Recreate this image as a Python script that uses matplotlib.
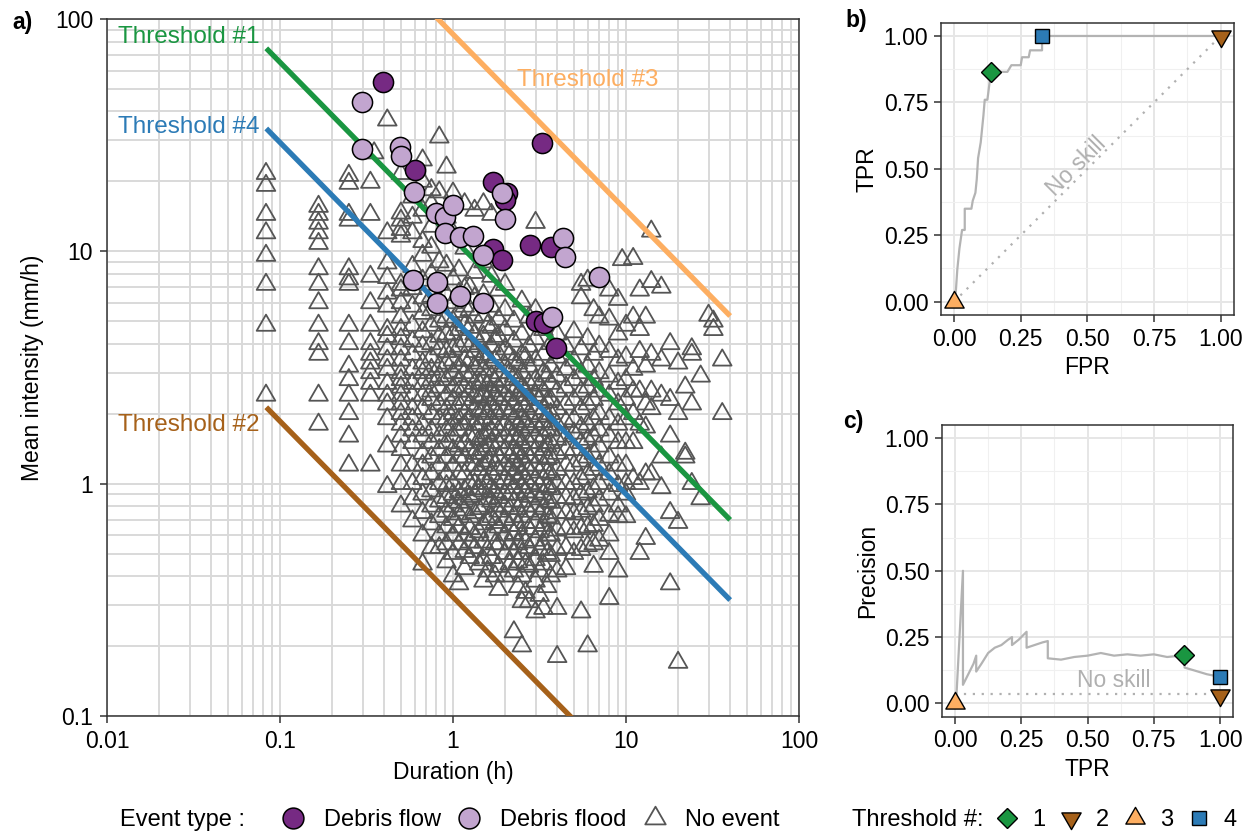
import numpy as np
import matplotlib
matplotlib.use("Agg")
import matplotlib.pyplot as plt
from matplotlib.path import Path
from matplotlib.lines import Line2D
from matplotlib.ticker import FixedLocator, LogLocator, NullFormatter, MultipleLocator

plt.rcParams['font.family'] = ['Liberation Sans', 'DejaVu Sans']

# ---------------- data: panel a ----------------
# debris-flow events (duration h, mean intensity mm/h)
flow_dur = [0.393, 3.27, 0.602, 1.70, 2.05, 2.0, 2.78, 3.70, 1.70, 1.92, 3.0, 3.35, 3.96]
flow_int = [53.5, 29.3, 22.4, 19.9, 17.8, 16.6, 10.6, 10.4, 10.2, 9.2, 5.0, 4.9, 3.85]

# debris-flood events
flood_dur = [0.298, 0.298, 0.494, 0.50, 0.596, 0.798, 0.899, 1.0, 0.899, 1.097, 1.306, 1.49,
             1.92, 2.0, 4.32, 4.43, 6.98, 0.588, 0.808, 0.808, 1.097, 1.49, 3.72]
flood_int = [43.9, 27.5, 28.1, 25.7, 18.0, 14.6, 14.0, 15.8, 12.0, 11.5, 11.6, 9.6,
             17.8, 13.8, 11.4, 9.5, 7.75, 7.5, 7.4, 6.0, 6.4, 5.97, 5.2]

# rainfall events without response, grouped by duration (h): intensities (mm/h)
nev_cols = [
    (0.083, [2.4, 4.8, 7.2, 9.6, 12.0, 14.4, 19.2, 21.6]),
    (0.167, [1.8, 2.4, 3.6, 4.0, 4.8, 6.0, 7.2, 8.4, 10.8, 12.0, 13.2, 14.4, 15.6]),
    (0.25, [1.2, 1.6, 2.0, 2.4, 2.8, 3.2, 4.0, 4.8, 7.2, 7.6, 8.4, 13.6, 14.4, 19.6, 21.2]),
    (0.333, [1.2, 2.4, 2.7, 3.0, 3.3, 3.6, 4.0, 4.8, 6.0, 7.8, 14.4, 19.8]),
    (0.35, [26.5]),
    (0.417, [0.97, 1.45, 1.9, 2.2, 2.4, 2.7, 3.1, 3.4, 3.8, 4.3, 4.6, 5.8, 6.6, 7.7, 8.9, 12.0, 36.7]),
    (0.5, [0.8, 1.0, 1.2, 1.4, 1.6, 1.8, 2.0, 2.2, 2.4, 2.6, 2.8, 3.0, 3.4, 3.8, 4.2, 4.6, 5.2,
           6.0, 6.8, 7.2, 11.6, 12.4, 13.6, 14.6, 21.6]),
    (0.583, [0.69, 0.86, 1.0, 1.2, 1.5, 1.7, 1.9, 2.1, 2.4, 2.7, 3.1, 3.6, 4.1, 4.8, 5.8, 6.9,
             8.6, 12.0, 14.0, 17.1]),
    (0.667, [0.45, 0.6, 0.75, 0.9, 1.05, 1.2, 1.35, 1.6, 1.8, 2.1, 2.4, 2.7, 3.0, 3.3, 3.9,
             4.5, 5.4, 6.3, 7.5, 9.6, 11.0, 15.0, 20.0, 24.7]),
    (0.75, [0.53, 0.67, 0.8, 0.93, 1.1, 1.3, 1.5, 1.7, 2.0, 2.3, 2.5, 2.8, 3.1, 3.5, 4.0, 4.8,
            5.6, 6.4, 8.0, 10.4, 12.8, 16.0, 18.4]),
    (0.833, [0.53, 0.6, 0.72, 0.84, 1.0, 1.2, 1.4, 1.6, 1.9, 2.2, 2.6, 2.9, 3.2, 3.8, 4.3,
             5.0, 6.0, 7.2, 9.0, 18.0, 31.0]),
    (0.917, [0.46, 0.55, 0.65, 0.76, 0.87, 0.98, 1.1, 1.3, 1.5, 1.7, 1.9, 2.1, 2.4, 2.8, 3.3,
             3.7, 4.4, 5.2, 6.5, 8.7, 14.0, 23.0]),
    (1.0, [0.4, 0.5, 0.6, 0.7, 0.8, 0.9, 1.0, 1.2, 1.4, 1.6, 1.8, 2.0, 2.3, 2.6, 3.0, 3.4,
           3.8, 4.4, 5.0, 6.0, 7.6, 12.0, 17.8]),
    (1.083, [0.37, 0.55, 0.65, 0.74, 0.83, 0.92, 1.1, 1.3, 1.45, 1.7, 1.9, 2.2, 2.5, 2.8, 3.2,
             3.9, 4.6, 5.5, 6.6, 8.3]),
    (1.167, [0.43, 0.51, 0.6, 0.77, 0.86, 0.94, 1.1, 1.3, 1.5, 1.8, 2.0, 2.3, 2.6, 3.0, 3.4,
             4.1, 4.8, 5.8, 6.9, 10.3, 16.0]),
    (1.25, [0.48, 0.56, 0.64, 0.72, 0.88, 1.0, 1.2, 1.4, 1.6, 1.9, 2.2, 2.5, 2.9, 3.4, 3.9,
            4.7, 5.6, 7.0]),
    (1.333, [0.53, 0.6, 0.75, 0.9, 1.0, 1.2, 1.35, 1.6, 1.8, 2.1, 2.4, 2.7, 3.2, 3.7, 4.4,
             5.2, 6.3, 8.1, 15.0]),
    (1.417, [0.45, 0.62, 0.78, 0.95, 1.15, 1.35, 1.55, 1.8, 2.05, 2.35, 2.7, 3.3, 4.0]),
    (1.5, [0.38, 0.47, 0.56, 0.67, 0.8, 0.93, 1.05, 1.2, 1.4, 1.6, 1.9, 2.1, 2.4, 2.8, 3.1,
           3.6, 4.3, 5.3, 6.5, 9.0, 16.0]),
    (1.583, [0.42, 0.52, 0.7, 0.86, 1.0, 1.25, 1.45, 1.65, 2.0, 2.3, 2.65, 3.5, 4.8]),
    (1.667, [0.48, 0.6, 0.72, 0.84, 0.96, 1.1, 1.3, 1.5, 1.7, 1.9, 2.2, 2.5, 2.9, 3.3, 3.9,
             4.7, 5.8, 7.8, 14.4]),
    (1.75, [0.4, 0.55, 0.68, 0.8, 0.92, 1.2, 1.4, 1.6, 1.8, 2.05, 2.4, 2.75, 3.4, 4.2]),
    (1.833, [0.35, 0.44, 0.55, 0.65, 0.76, 0.87, 1.0, 1.15, 1.3, 1.5, 1.7, 2.0, 2.3, 2.6,
             3.0, 3.6, 4.3, 5.1, 6.8]),
    (2.0, [0.4, 0.5, 0.6, 0.7, 0.8, 0.9, 1.05, 1.2, 1.4, 1.6, 1.8, 2.1, 2.4, 2.8, 3.2, 3.8,
           4.6, 5.6, 7.2]),
    (2.125, [0.45, 0.55, 0.66, 0.78, 0.9, 1.0, 1.15, 1.3, 1.5, 1.7, 2.0, 2.3, 2.6, 3.0, 3.6]),
    (2.25, [0.23, 0.42, 0.5, 0.61, 0.72, 0.84, 0.96, 1.1, 1.25, 1.4, 1.6, 1.9, 2.2, 2.5, 2.9,
            3.4, 4.1, 5.0]),
    (2.375, [0.36, 0.46, 0.55, 0.66, 0.78, 0.9, 1.05, 1.2, 1.35, 1.55, 1.8, 2.05, 2.4, 2.8,
             3.3]),
    (2.5, [0.2, 0.31, 0.4, 0.5, 0.6, 0.72, 0.84, 0.96, 1.1, 1.3, 1.5, 1.7, 1.9, 2.2, 2.6, 3.0,
           3.6, 4.4, 6.1]),
    (2.625, [0.34, 0.45, 0.56, 0.68, 0.8, 0.92, 1.05, 1.2, 1.4, 1.6, 1.85, 2.15, 2.5, 3.5]),
    (2.75, [0.31, 0.44, 0.53, 0.64, 0.76, 0.88, 1.0, 1.15, 1.3, 1.5, 1.75, 2.0, 2.3, 2.7, 3.2,
            3.9, 5.2]),
    (3.0, [0.28, 0.38, 0.47, 0.57, 0.68, 0.8, 0.92, 1.05, 1.2, 1.4, 1.6, 1.8, 2.1, 2.4, 2.8,
           3.4, 4.2, 5.6, 13.3]),
    (3.167, [0.33, 0.42, 0.52, 0.62, 0.74, 0.86, 0.98, 1.12, 1.3, 1.5, 1.7, 1.95, 2.3, 2.65]),
    (3.333, [0.29, 0.45, 0.55, 0.66, 0.78, 0.9, 1.05, 1.2, 1.4, 1.6, 1.85, 2.1, 2.5, 3.0, 3.6,
             4.6]),
    (3.5, [0.36, 0.5, 0.6, 0.72, 0.84, 0.97, 1.12, 1.28, 1.45, 1.7, 1.95, 2.25, 2.9]),
    (3.667, [0.4, 0.49, 0.6, 0.71, 0.83, 0.95, 1.1, 1.3, 1.5, 1.7, 2.0, 2.3, 2.7, 3.2, 4.0]),
    (4.0, [0.18, 0.29, 0.42, 0.52, 0.63, 0.75, 0.87, 1.0, 1.15, 1.35, 1.55, 1.8, 2.1, 2.5,
           2.9, 3.5, 4.4]),
    (4.5, [0.43, 0.53, 0.64, 0.75, 0.87, 1.0, 1.2, 1.4, 1.6, 1.85, 2.2, 2.6, 3.1, 3.9]),
    (5.0, [0.5, 0.62, 0.74, 0.86, 1.0, 1.2, 1.4, 1.65, 1.9, 2.3, 2.8, 3.4, 4.5]),
    (5.5, [0.28, 0.52, 0.64, 0.76, 0.9, 1.05, 1.25, 1.5, 1.75, 2.1, 2.5, 3.0, 3.8, 6.3, 7.2]),
    (6.0, [0.2, 0.54, 0.65, 0.78, 0.92, 1.1, 1.3, 1.55, 1.8, 2.2, 2.6, 3.2, 4.2, 7.5]),
    (6.5, [0.44, 0.55, 0.66, 0.8, 0.95, 1.15, 1.35, 1.6, 1.9, 2.3, 2.8, 3.6, 5.6]),
    (7.0, [0.57, 0.7, 0.85, 1.0, 1.2, 1.45, 1.7, 2.0, 2.5, 3.0, 3.9, 5.2]),
    (8.0, [0.32, 0.5, 0.6, 0.73, 0.9, 1.1, 1.3, 1.6, 1.9, 2.4, 2.9, 3.7, 5.1, 6.8]),
    (9.0, [0.42, 0.72, 0.8, 0.98, 1.2, 1.5, 1.8, 2.2, 2.7, 3.4, 4.4, 6.2]),
    (9.5, [9.2]),
    (10.0, [0.72, 0.9, 1.0, 1.2, 1.5, 1.9, 2.3, 2.8, 3.5, 4.8]),
    (11.0, [1.05, 1.5, 2.0, 2.5, 3.1, 5.2, 9.3]),
    (12.0, [0.5, 1.0, 1.8, 2.5, 3.7, 4.6, 6.8]),
    (13.0, [0.58, 1.1, 1.75, 2.2, 3.2, 5.2]),
    (14.0, [1.1, 2.1, 2.5, 3.6, 7.4, 12.2]),
    (16.0, [0.96, 1.3, 2.4, 3.4, 7.0]),
    (18.0, [0.37, 0.75, 1.6, 2.3, 4.0]),
    (20.0, [0.17, 0.68, 2.0, 3.3]),
    (22.0, [1.3, 1.35, 2.6]),
    (24.0, [1.0, 2.2, 3.6, 3.8]),
    (27.0, [0.86, 2.9]),
    (30.0, [5.3]),
    (32.0, [4.6, 5.0]),
    (36.0, [2.0, 3.4]),
]

# thresholds: intensity at 1 h (mm/h) and common exponent
thr_names = ['Threshold #1', 'Threshold #2', 'Threshold #3', 'Threshold #4']
thr_i1h = [11.4, 0.325, 86.0, 5.15]
thr_exp = -0.757
thr_dur = [0.0833, 40.0]
thr_colors = ['#1a9641', '#a6611a', '#fdae61', '#2c7bb6']

# ---------------- data: panels b, c ----------------
roc_fpr = [0, 0.006, 0.012, 0.02, 0.03, 0.04, 0.04, 0.065, 0.07, 0.08, 0.085, 0.09, 0.1,
           0.105, 0.11, 0.115, 0.125, 0.135, 0.14, 0.175, 0.2, 0.215, 0.22, 0.25, 0.255,
           0.28, 0.285, 0.33, 0.33, 1.0]
roc_tpr = [0, 0.03, 0.12, 0.2, 0.27, 0.27, 0.35, 0.35, 0.38, 0.41, 0.46, 0.54, 0.6, 0.65,
           0.7, 0.76, 0.76, 0.84, 0.865, 0.865, 0.865, 0.89, 0.89, 0.89, 0.92, 0.92, 0.946,
           0.946, 1.0, 1.0]

pr_tpr = [0.0, 0.006, 0.03, 0.03, 0.05, 0.07, 0.08, 0.08, 0.1, 0.125, 0.15, 0.175, 0.2,
          0.215, 0.215, 0.24, 0.27, 0.27, 0.3, 0.33, 0.35, 0.35, 0.4, 0.45, 0.5, 0.55, 0.6,
          0.65, 0.7, 0.75, 0.8, 0.85, 0.866, 0.866, 0.9, 0.95, 1.0]
pr_prec = [0.0, 0.04, 0.5, 0.07, 0.11, 0.15, 0.18, 0.12, 0.15, 0.19, 0.21, 0.22, 0.24,
           0.25, 0.22, 0.24, 0.27, 0.21, 0.22, 0.23, 0.235, 0.17, 0.165, 0.175, 0.18, 0.19,
           0.18, 0.185, 0.18, 0.185, 0.175, 0.18, 0.184, 0.135, 0.125, 0.11, 0.10]
no_skill_prec = 0.037

thr_fpr = [0.14, 1.0, 0.0, 0.33]
thr_tpr = [0.865, 1.0, 0.0, 1.0]
thr_prec = [0.184, 0.033, 0.0, 0.10]

# ---------------- markers ----------------
TRI_UP = Path([(0, 0.577), (-0.5, -0.289), (0.5, -0.289), (0, 0.577)],
              [Path.MOVETO, Path.LINETO, Path.LINETO, Path.CLOSEPOLY])
TRI_DN = Path([(0, -0.577), (-0.5, 0.289), (0.5, 0.289), (0, -0.577)],
              [Path.MOVETO, Path.LINETO, Path.LINETO, Path.CLOSEPOLY])
thr_markers = ['D', TRI_DN, TRI_UP, 's']
thr_msize = [10.5, 16, 16, 10]

FLOW_C = '#762a83'
FLOOD_C = '#c2a5cf'
TRI_C = '#555555'
FS = 16.5
LFS = 17

fig = plt.figure(figsize=(12.5, 8.34), dpi=100)
ax_a = fig.add_axes([0.0856, 0.1415, 0.5536, 0.8357])
ax_b = fig.add_axes([0.7526, 0.6223, 0.2346, 0.3505])
ax_c = fig.add_axes([0.7534, 0.1407, 0.2333, 0.3498])

# ---------------- panel a ----------------
ax = ax_a
ax.set_xscale('log')
ax.set_yscale('log')
ax.set_xlim(0.01, 100)
ax.set_ylim(0.1, 100)
ax.set_axisbelow(True)
ax.grid(True, which='both', color='#d9d9d9', lw=1.4)

nev_d = [d for d, vals in nev_cols for _ in vals]
nev_i = [v for _, vals in nev_cols for v in vals]
ax.scatter(nev_d, nev_i, marker=TRI_UP, s=15.5 ** 2, facecolors='none',
           edgecolors=TRI_C, linewidths=1.3, zorder=2)

for name, a, col in zip(thr_names, thr_i1h, thr_colors):
    ax.plot(thr_dur, [a * d ** thr_exp for d in thr_dur], color=col, lw=3.8,
            solid_capstyle='butt', zorder=3)

ax.scatter(flow_dur, flow_int, s=14.5 ** 2, c=FLOW_C, edgecolors='black',
           linewidths=1.1, zorder=4)
ax.scatter(flood_dur, flood_int, s=14.5 ** 2, c=FLOOD_C, edgecolors='black',
           linewidths=1.1, zorder=4)

lab_pos = [(0.0159, 0.974), (0.0159, 0.4175), (0.5925, 0.9125), (0.0159, 0.845)]
for name, col, (lx, ly) in zip(thr_names, thr_colors, lab_pos):
    ax.text(lx, ly, name, color=col, fontsize=17.5, ha='left', va='center',
            transform=ax.transAxes, zorder=5)

ax.xaxis.set_major_locator(FixedLocator([0.01, 0.1, 1, 10, 100]))
ax.set_xticklabels(['0.01', '0.1', '1', '10', '100'])
ax.yaxis.set_major_locator(FixedLocator([0.1, 1, 10, 100]))
ax.set_yticklabels(['0.1', '1', '10', '100'])
ax.xaxis.set_minor_locator(LogLocator(base=10, subs=np.arange(2, 10)))
ax.yaxis.set_minor_locator(LogLocator(base=10, subs=np.arange(2, 10)))
ax.xaxis.set_minor_formatter(NullFormatter())
ax.yaxis.set_minor_formatter(NullFormatter())
ax.tick_params(which='major', length=5, width=1.1, color='#333333', labelsize=FS, pad=5)
ax.tick_params(which='minor', length=0)
ax.set_xlabel('Duration (h)', fontsize=FS, labelpad=6)
ax.set_ylabel('Mean intensity (mm/h)', fontsize=FS, labelpad=8)
for sp in ax.spines.values():
    sp.set_color('#333333')
    sp.set_linewidth(1.1)


def style_unit(ax):
    ax.set_xlim(-0.05, 1.05)
    ax.set_ylim(-0.05, 1.05)
    ticks = [0, 0.25, 0.5, 0.75, 1.0]
    ax.set_xticks(ticks)
    ax.set_yticks(ticks)
    ax.set_xticklabels(['0.00', '0.25', '0.50', '0.75', '1.00'])
    ax.set_yticklabels(['0.00', '0.25', '0.50', '0.75', '1.00'])
    ax.xaxis.set_minor_locator(MultipleLocator(0.125))
    ax.yaxis.set_minor_locator(MultipleLocator(0.125))
    ax.set_axisbelow(True)
    ax.grid(True, which='major', color='#e6e6e6', lw=1.4)
    ax.grid(True, which='minor', color='#f0f0f0', lw=0.8)
    ax.tick_params(which='major', length=5, width=1.1, color='#333333', labelsize=FS, pad=4)
    ax.tick_params(which='minor', length=0)
    for sp in ax.spines.values():
        sp.set_color('#333333')
        sp.set_linewidth(1.1)


# ---------------- panel b ----------------
ax = ax_b
style_unit(ax)
ax.plot([0, 1], [0, 1], color='#b0b0b0', lw=1.6, ls=(0, (1, 3)), zorder=2)
ax.plot(roc_fpr, roc_tpr, color='#b3b3b3', lw=1.6, zorder=3)
for xv, yv, col, mk, ms in zip(thr_fpr, thr_tpr, thr_colors, thr_markers, thr_msize):
    ax.plot([xv], [yv], ls='', marker=mk, ms=ms, mfc=col, mec='black', mew=1.0,
            zorder=4, clip_on=False)
ax.text(0.46, 0.51, 'No skill', rotation=45, color='#b0b0b0', fontsize=FS,
        ha='center', va='center')
ax.set_xlabel('FPR', fontsize=FS, labelpad=4)
ax.set_ylabel('TPR', fontsize=FS, labelpad=4)

# ---------------- panel c ----------------
ax = ax_c
style_unit(ax)
ax.plot([0, 1], [no_skill_prec, no_skill_prec], color='#b0b0b0', lw=1.6,
        ls=(0, (1, 3)), zorder=2)
ax.plot(pr_tpr, pr_prec, color='#b3b3b3', lw=1.6, zorder=3)
for xv, yv, col, mk, ms in zip(thr_tpr, thr_prec, thr_colors, thr_markers, thr_msize):
    ax.plot([xv], [yv], ls='', marker=mk, ms=ms, mfc=col, mec='black', mew=1.0,
            zorder=4, clip_on=False)
ax.text(0.6, 0.085, 'No skill', color='#b0b0b0', fontsize=FS, ha='center', va='center')
ax.set_xlabel('TPR', fontsize=FS, labelpad=4)
ax.set_ylabel('Precision', fontsize=FS, labelpad=4)

# ---------------- panel tags ----------------
fig.text(12 / 1250, 1 - 22 / 834, 'a)', fontsize=FS, weight='bold', va='center')
fig.text(845 / 1250, 1 - 20 / 834, 'b)', fontsize=FS, weight='bold', va='center')
fig.text(843 / 1250, 1 - 422 / 834, 'c)', fontsize=FS, weight='bold', va='center')

# ---------------- legends ----------------
ly = 1 - 820 / 834
fig.text(120 / 1250, ly, 'Event type :', fontsize=LFS, va='center')
ev_handles = [
    Line2D([], [], ls='', marker='o', ms=15, mfc=FLOW_C, mec='black', mew=1.1),
    Line2D([], [], ls='', marker='o', ms=15, mfc=FLOOD_C, mec='black', mew=1.1),
    Line2D([], [], ls='', marker=TRI_UP, ms=17, mfc='none', mec=TRI_C, mew=1.3),
]
fig.legend(ev_handles, ['Debris flow', 'Debris flood', 'No event'], ncol=3,
           loc='center left', bbox_to_anchor=(279 / 1250, ly), frameon=False,
           fontsize=LFS, handlelength=1.2, handletextpad=0.7, columnspacing=0.6,
           borderpad=0, borderaxespad=0)

fig.text(852 / 1250, ly, 'Threshold #:', fontsize=LFS, va='center')
th_handles = [Line2D([], [], ls='', marker=mk, ms=ms, mfc=col, mec='black', mew=1.0)
              for mk, ms, col in zip(thr_markers, thr_msize, thr_colors)]
fig.legend(th_handles, ['1', '2', '3', '4'], ncol=4, loc='center left',
           bbox_to_anchor=(993 / 1250, ly), frameon=False, fontsize=LFS,
           handlelength=1.2, handletextpad=0.45, columnspacing=0.5,
           borderpad=0, borderaxespad=0)

fig.savefig('out.png', dpi=100)
